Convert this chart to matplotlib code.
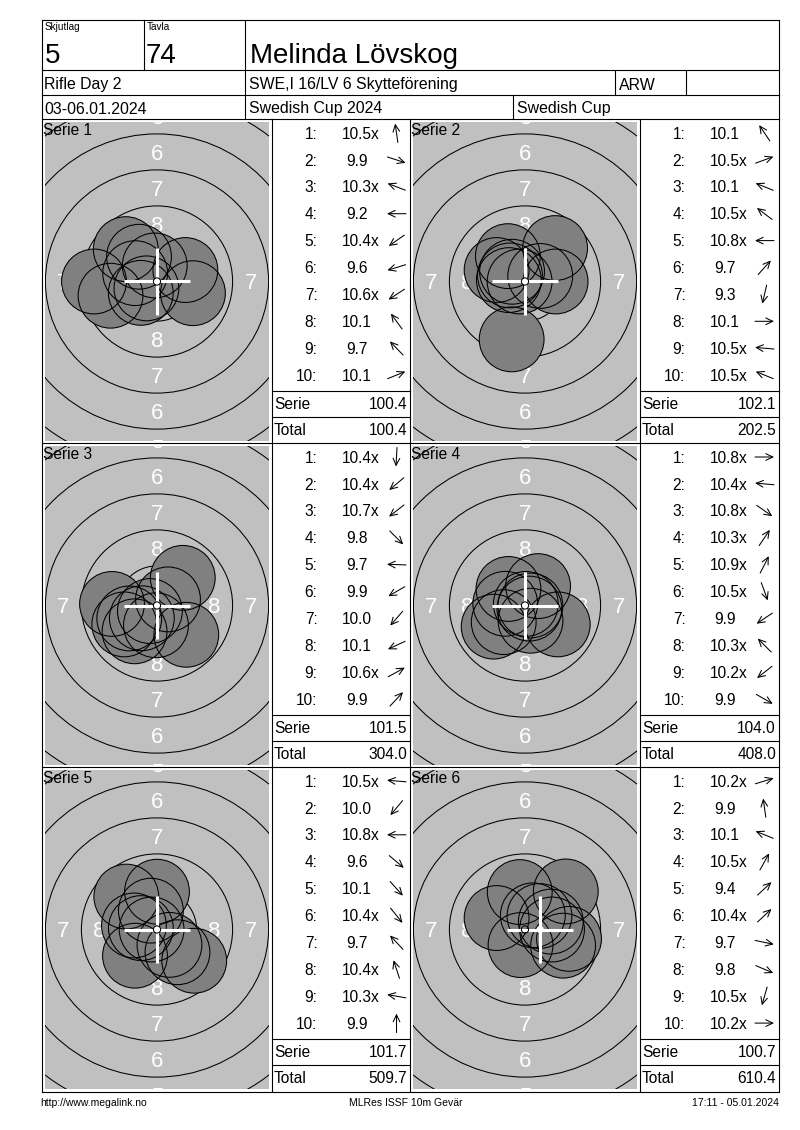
import numpy as np
import matplotlib.pyplot as plt
from matplotlib.patches import Circle

plt.rcParams['font.family'] = ['Liberation Sans', 'DejaVu Sans']

W, H = 800, 1130

# header / footer texts
skjutlag = '5'
tavla = '74'
shooter = 'Melinda Lövskog'
event = 'Rifle Day 2'
club = 'SWE,I 16/LV 6 Skytteförening'
klass = 'ARW'
dates = '03-06.01.2024'
competition = 'Swedish Cup 2024'
cup = 'Swedish Cup'
footer_left = 'http://www.megalink.no'
footer_mid = 'MLRes ISSF 10m Gevär'
footer_right = '17:11 - 05.01.2024'

series_names = ['Serie 1', 'Serie 2', 'Serie 3', 'Serie 4', 'Serie 5', 'Serie 6']

# decimal scores per shot
scores = [
    [10.5, 9.9, 10.3, 9.2, 10.4, 9.6, 10.6, 10.1, 9.7, 10.1],
    [10.1, 10.5, 10.1, 10.5, 10.8, 9.7, 9.3, 10.1, 10.5, 10.5],
    [10.4, 10.4, 10.7, 9.8, 9.7, 9.9, 10.0, 10.1, 10.6, 9.9],
    [10.8, 10.4, 10.8, 10.3, 10.9, 10.5, 9.9, 10.3, 10.2, 9.9],
    [10.5, 10.0, 10.8, 9.6, 10.1, 10.4, 9.7, 10.4, 10.3, 9.9],
    [10.2, 9.9, 10.1, 10.5, 9.4, 10.4, 9.7, 9.8, 10.5, 10.2],
]

# direction of each shot from centre (degrees, 0 = right, 90 = up), read from the arrows
directions = [
    [98, -18, 159, 180, 215, 197, 213, 126, 134, 22],
    [124, 20, 158, 143, 180, 48, -103, 0, 175, 158],
    [-93, 220, 218, -45, 178, 210, 229, 205, 29, 47],
    [0, 175, -35, 56, 63, -70, 214, 135, 218, -30],
    [175, 230, 180, -40, -48, -51, 133, 108, 170, 90],
    [17, 98, 158, 61, 43, 43, -12, -23, -106, 0],
]

# white cross position (mm)
cross_x = [0, 0, 0, 0, 0, 1.05]
cross_y = [0, 0, 0, 0, 0, 0]

serie_sums = [round(sum(s), 1) for s in scores]
totals = np.round(np.cumsum(serie_sums), 1)

# layout in pixels
LEFT, RIGHT = 42, 779
row_tops = [119, 443, 767]
BOTTOM = 1092
target_lefts = [42, 410]
score_lefts = [272, 640]
score_rights = [410, 779]
PX_MM = 14.4
SHOT_R = 2.25

fig = plt.figure(figsize=(W / 100, H / 100), dpi=100)
fig.patch.set_facecolor('white')


def frac(x, y, w, h):
    return [x / W, 1 - (y + h) / H, w / W, h / H]


# ---- targets ----
ring_r = {n: 0.25 + (10 - n) * 2.5 for n in range(1, 11)}
for k in range(6):
    r, c = divmod(k, 2)
    gx, gy, gw, gh = target_lefts[c] + 3, row_tops[r] + 3, 224, 319
    ax = fig.add_axes(frac(gx, gy, gw, gh))
    hw, hh = gw / 2 / PX_MM, gh / 2 / PX_MM
    ax.set_xlim(-hw, hw)
    ax.set_ylim(-hh, hh)
    ax.set_facecolor('#c0c0c0')
    ax.set_xticks([])
    ax.set_yticks([])
    for sp in ax.spines.values():
        sp.set_visible(False)

    for n in range(1, 10):
        ax.add_patch(Circle((0, 0), ring_r[n], fill=False, ec='black', lw=0.75, zorder=1))
    for n in range(1, 9):
        m = (ring_r[n] + ring_r[n + 1]) / 2
        spots = []
        if m - 0.55 < hh:
            spots += [(0, m), (0, -m)]
        if m - 0.4 < hw:
            spots += [(m, 0), (-m, 0)]
        for (px, py) in spots:
            ax.text(px, py - 0.55, str(n), color='white', fontsize=16,
                    ha='center', va='baseline', clip_on=True, zorder=2)

    s = np.array(scores[k])
    a = np.radians(directions[k])
    d = (10.95 - s) * 2.5
    xs, ys = d * np.cos(a), d * np.sin(a)
    for x, y in zip(xs, ys):
        ax.add_patch(Circle((x, y), SHOT_R, fc='#808080', ec='none', zorder=3))
    for x, y in zip(xs, ys):
        ax.add_patch(Circle((x, y), SHOT_R, fill=False, ec='black', lw=0.75, zorder=4))

    cx, cy = cross_x[k], cross_y[k]
    ax.plot([cx - 2.3, cx + 2.3], [cy, cy], color='white', lw=2.2, solid_capstyle='butt', zorder=5)
    ax.plot([cx, cx], [cy - 2.3, cy + 2.3], color='white', lw=2.2, solid_capstyle='butt', zorder=5)
    ax.add_patch(Circle((cx, cy), 0.25, fc='white', ec='none', zorder=5))
    ax.add_patch(Circle((0, 0), ring_r[10], fill=False, ec='black', lw=0.75, zorder=6))

# ---- page: frame, texts, tables ----
page = fig.add_axes([0, 0, 1, 1], zorder=5)
page.set_xlim(0, W)
page.set_ylim(H, 0)
page.axis('off')

LW = 0.8
for y in [20, 70, 95, 119, 443, 767, 1092]:
    page.plot([LEFT, RIGHT], [y, y], color='black', lw=LW)
for x in [LEFT, RIGHT]:
    page.plot([x, x], [20, BOTTOM], color='black', lw=LW)
for x in [144, 245]:
    page.plot([x, x], [20, 70], color='black', lw=LW)
for x in [245, 615, 686]:
    page.plot([x, x], [70, 95], color='black', lw=LW)
for x in [245, 513]:
    page.plot([x, x], [95, 119], color='black', lw=LW)
for x in [272, 410, 640]:
    page.plot([x, x], [119, BOTTOM], color='black', lw=LW)

page.text(44.5, 30, 'Skjutlag', fontsize=7.2, va='baseline')
page.text(147, 30, 'Tavla', fontsize=7.2, va='baseline')
page.text(44.5, 63, skjutlag, fontsize=20, va='baseline')
page.text(146, 63, tavla, fontsize=20, va='baseline')
page.text(250, 63, shooter, fontsize=20, va='baseline')
HF = 11.4
page.text(44.5, 89.5, event, fontsize=HF, va='baseline')
page.text(249, 89.5, club, fontsize=HF, va='baseline')
page.text(619, 89.5, klass, fontsize=HF, va='baseline')
page.text(44.5, 113.5, dates, fontsize=HF, va='baseline')
page.text(249, 113.5, competition, fontsize=HF, va='baseline')
page.text(517, 113.5, cup, fontsize=HF, va='baseline')

page.text(LEFT - 2, 1106, footer_left, fontsize=7.5, va='baseline', ha='left')
page.text(406, 1106, footer_mid, fontsize=7.5, va='baseline', ha='center')
page.text(RIGHT, 1106, footer_right, fontsize=7.5, va='baseline', ha='right')

SF = 11.2
BASE = 5.6
ARROW_L = 19
for k in range(6):
    r, c = divmod(k, 2)
    t = row_tops[r]
    xl, xr = score_lefts[c], score_rights[c]
    page.text(target_lefts[c] + 1, t + 16, series_names[k], fontsize=SF, va='baseline')
    for i, (s, ang) in enumerate(zip(scores[k], directions[k])):
        yc = t + 14 + 26.9 * i
        page.text(xl + 45.5, yc + BASE, f'{i + 1}:', fontsize=SF, ha='right', va='baseline')
        label = f'{s:.1f}' + ('x' if s >= 10.2 else '')
        xs = xl + 70 + (4.3 if s < 10 else 0)
        page.text(xs, yc + BASE, label, fontsize=SF, ha='left', va='baseline')
        ax_c = xl + 124.5
        a = np.radians(ang)
        dx, dy = ARROW_L / 2 * np.cos(a), -ARROW_L / 2 * np.sin(a)
        page.annotate('', xy=(ax_c + dx, yc + dy), xytext=(ax_c - dx, yc - dy),
                      arrowprops=dict(arrowstyle='->,head_length=0.42,head_width=0.2',
                                      lw=0.75, color='black', shrinkA=0, shrinkB=0,
                                      mutation_scale=12))
    page.plot([xl, xr], [t + 272, t + 272], color='black', lw=LW)
    page.plot([xl, xr], [t + 298, t + 298], color='black', lw=LW)
    page.text(xl + 2, t + 284 + BASE, 'Serie', fontsize=SF, va='baseline')
    page.text(xr - 3, t + 284 + BASE, f'{serie_sums[k]:.1f}', fontsize=SF, ha='right', va='baseline')
    page.text(xl + 2, t + 310 + BASE, 'Total', fontsize=SF, va='baseline')
    page.text(xr - 3, t + 310 + BASE, f'{totals[k]:.1f}', fontsize=SF, ha='right', va='baseline')

fig.savefig('out.png', dpi=100)
